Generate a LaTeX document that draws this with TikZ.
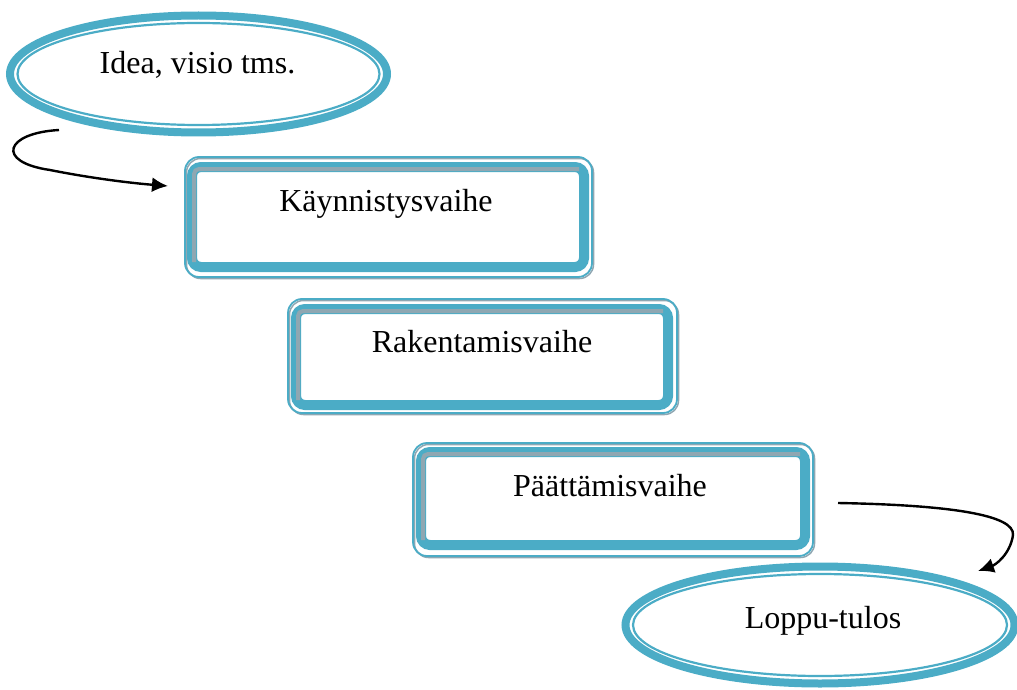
\documentclass[tikz,border=0pt]{standalone}
\usepackage{fontspec}
\setmainfont{Liberation Serif}
\usetikzlibrary{shapes.geometric,arrows.meta,calc}
\definecolor{accent}{HTML}{4BACC6}
\definecolor{shade}{HTML}{8FA7B2}
\tikzset{
  ringthick/.style={ellipse, draw=accent, line width=8pt, inner sep=0pt},
  ringthin/.style={ellipse, draw=accent, line width=2.2pt, inner sep=0pt},
  thickbox/.style={draw=accent, line width=10pt, rounded corners=9pt, inner sep=0pt},
  outerline/.style={draw=accent, line width=1.8pt, rounded corners=14pt, inner sep=0pt},
  outershade/.style={draw=shade, line width=1.5pt, rounded corners=14pt, inner sep=0pt},
  shadeband/.style={draw=shade, line width=4pt, rounded corners=5pt},
  label/.style={font=\fontsize{32}{38}\selectfont, inner sep=0pt, anchor=base},
  flow/.style={line width=2.4pt, -{Latex[length=16pt,width=15pt]}}
}
\begin{document}
\begin{tikzpicture}[x=1pt,y=-1pt]
\useasboundingbox (0,0) rectangle (1017,690);
% --- start ellipse
\node[ringthick, minimum width=377pt, minimum height=117pt] (idea) at (198.5,74) {};
\node[ringthin, minimum width=362pt, minimum height=102pt] (ideain) at (198.5,74) {};
\node[label] (ideatxt) at (197.5,74) {Idea, visio tms.};
% --- box 1
\node[outershade, minimum width=407pt, minimum height=120pt] (b1s) at (390,218.5) {};
\node[outerline, minimum width=407pt, minimum height=120pt] (b1o) at (388.5,217) {};
\node[thickbox, minimum width=392pt, minimum height=100pt] (b1) at (388,217) {};
\draw[shadeband] ($(b1.south west)+(7,-10)$) -- ($(b1.north west)+(7,7)$) -- ($(b1.north east)+(-10,7)$);
\node[label] (b1txt) at (386,211) {Käynnistysvaihe};
% --- box 2
\node[outershade, minimum width=389pt, minimum height=114pt] (b2s) at (484,357.5) {};
\node[outerline, minimum width=389pt, minimum height=114pt] (b2o) at (482.5,356) {};
\node[thickbox, minimum width=372pt, minimum height=96pt] (b2) at (482,357) {};
\draw[shadeband] ($(b2.south west)+(7,-10)$) -- ($(b2.north west)+(7,7)$) -- ($(b2.north east)+(-10,7)$);
\node[label] (b2txt) at (482,352) {Rakentamisvaihe};
% --- box 3
\node[outershade, minimum width=400pt, minimum height=113pt] (b3s) at (614.5,501) {};
\node[outerline, minimum width=400pt, minimum height=113pt] (b3o) at (613,499.5) {};
\node[thickbox, minimum width=384pt, minimum height=93pt] (b3) at (613,498.5) {};
\draw[shadeband] ($(b3.south west)+(7,-10)$) -- ($(b3.north west)+(7,7)$) -- ($(b3.north east)+(-10,7)$);
\node[label] (b3txt) at (610,496) {Päättämisvaihe};
% --- end ellipse
\node[ringthick, minimum width=389pt, minimum height=117pt] (end) at (820,625) {};
\node[ringthin, minimum width=374pt, minimum height=102pt] (endin) at (820,625) {};
\node[label] (endtxt) at (823,628) {Loppu-tulos};
% --- connectors
\coordinate (a1s) at (59,130);
\coordinate (a1m) at (50,170);
\coordinate (a1e) at (168,186);
\draw[flow] (a1s) .. controls (5,133) and (-5,162) .. (a1m) .. controls (90,178) and (130,183) .. (a1e);
\coordinate (a2s) at (838,503);
\coordinate (a2m) at (1013,535);
\coordinate (a2e) at (978,571);
\draw[flow] (a2s) .. controls (950,505) and (1015,515) .. (a2m) .. controls (1010,555) and (995,565) .. (a2e);
\end{tikzpicture}
\end{document}
